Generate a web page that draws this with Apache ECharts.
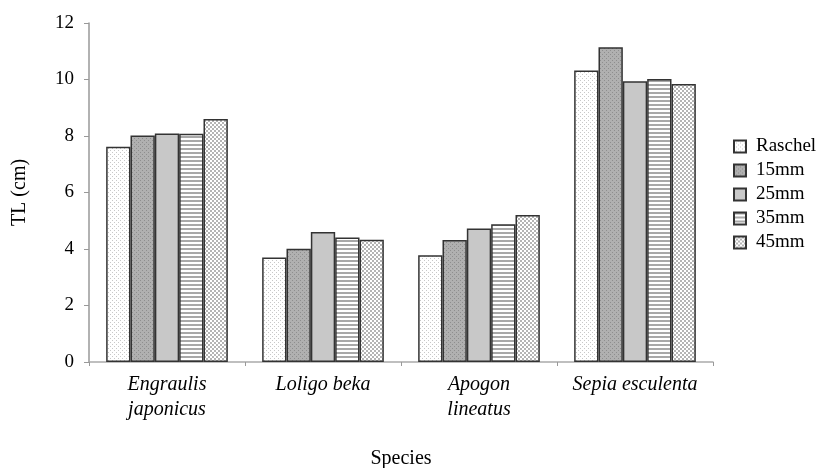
<!DOCTYPE html>
<html>
<head>
<meta charset="utf-8">
<style>
  html, body { margin: 0; padding: 0; background: #fff; }
  #chart { width: 822px; height: 468px; }
</style>
<script src="https://cdn.jsdelivr.net/npm/echarts@6/dist/echarts.min.js"></script>
</head>
<body>
<div id="chart"></div>
<script>
// data
var species = ['Engraulis\njaponicus', 'Loligo beka', 'Apogon\nlineatus', 'Sepia esculenta']
var meshNames = ['Raschel', '15mm', '25mm', '35mm', '45mm']
var raschel = [7.62, 3.70, 3.78, 10.32]
var mesh15 = [8.02, 4.01, 4.32, 11.14]
var mesh25 = [8.09, 4.60, 4.73, 9.94]
var mesh35 = [8.08, 4.41, 4.88, 10.02]
var mesh45 = [8.60, 4.33, 5.20, 9.84]
var yTicks = { min: 0, max: 12, interval: 2 }

// small canvas fills that mimic the print-style hatching
function makePattern(size, bg, fg, cells) {
  var c = document.createElement('canvas')
  c.width = size
  c.height = size
  var ctx = c.getContext('2d')
  ctx.fillStyle = bg
  ctx.fillRect(0, 0, size, size)
  ctx.fillStyle = fg
  cells.forEach(function(p) {
    ctx.fillRect(p[0], p[1], p[2] || 1, p[3] || 1)
  })
  return { image: c, repeat: 'repeat' }
}

var fills = [
  makePattern(4, '#ffffff', '#c8c8c8', [[0, 0], [2, 2]]),
  makePattern(4, '#b0b0b0', '#8e8e8e', [[0, 0], [2, 2]]),
  '#c8c8c8',
  makePattern(4, '#ffffff', '#a8a8a8', [[0, 0, 4, 2]]),
  makePattern(4, '#ffffff', '#b4b4b4', [[0, 0, 2, 2], [2, 2, 2, 2]])
]
var values = [raschel, mesh15, mesh25, mesh35, mesh45]

var serif = '"Liberation Serif", "DejaVu Serif", serif'

var chart = echarts.init(document.getElementById('chart'))
var option = {
  animation: false,
  backgroundColor: '#fff',
  textStyle: { fontFamily: serif, color: '#000' },
  grid: { left: 89, right: 109, top: 23, bottom: 106, outerBoundsMode: 'none' },
  legend: {
    orient: 'vertical',
    left: 728,
    top: 132,
    itemWidth: 12,
    itemHeight: 12,
    itemGap: 5,
    icon: 'rect',
    textStyle: { fontFamily: serif, fontSize: 19, color: '#000', padding: [0, 0, 0, 5] },
    data: meshNames
  },
  xAxis: {
    type: 'category',
    data: species,
    name: 'Species',
    nameLocation: 'middle',
    nameGap: 87,
    nameTextStyle: { fontFamily: serif, fontSize: 20, color: '#000' },
    axisLine: { lineStyle: { color: '#aaaaaa', width: 1.5 } },
    axisTick: { show: true, length: 4, lineStyle: { color: '#999999' } },
    axisLabel: {
      fontFamily: serif,
      fontStyle: 'italic',
      fontSize: 20,
      color: '#000',
      lineHeight: 25,
      margin: 10,
      interval: 0
    }
  },
  yAxis: {
    type: 'value',
    min: yTicks.min,
    max: yTicks.max,
    interval: yTicks.interval,
    name: 'TL (cm)',
    nameLocation: 'middle',
    nameGap: 59,
    nameTextStyle: { fontFamily: serif, fontSize: 20, color: '#000' },
    axisLine: { show: true, lineStyle: { color: '#999999', width: 1.5 } },
    axisTick: { show: true, length: 5, lineStyle: { color: '#999999' } },
    axisLabel: { fontFamily: serif, fontSize: 19, color: '#000', margin: 15 },
    splitLine: { show: false }
  },
  series: meshNames.map(function(name, i) {
    return {
      name: name,
      type: 'bar',
      data: values[i],
      barGap: '0%',
      barCategoryGap: '22%',
      itemStyle: { color: fills[i], borderColor: '#333333', borderWidth: 1.5 }
    }
  })
}
chart.setOption(option)
</script>
</body>
</html>
